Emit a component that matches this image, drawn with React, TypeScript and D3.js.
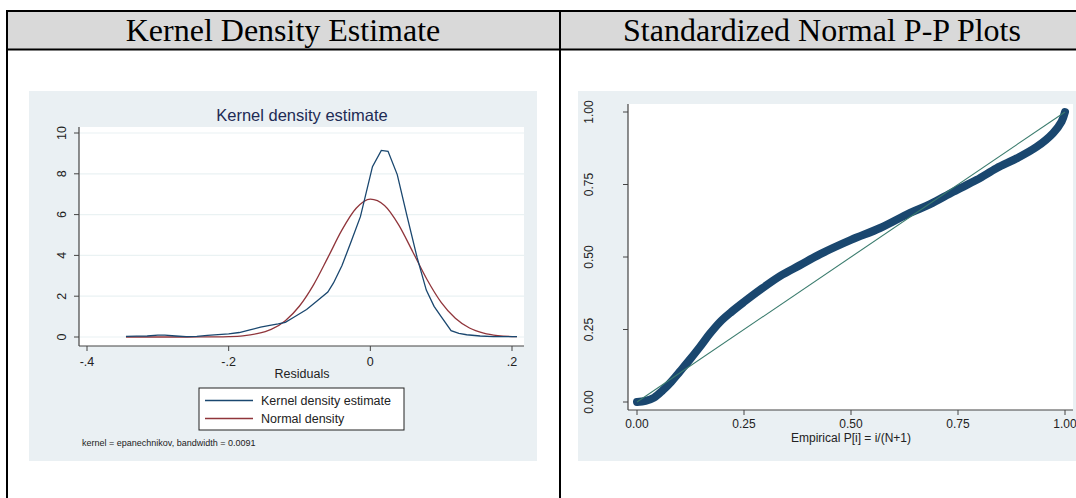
import React from "react";
import * as d3 from "d3";

// Residuals grid (x) and kernel density estimate (y)
const kdeX = [-0.345, -0.33, -0.315, -0.3, -0.29, -0.275, -0.26, -0.245, -0.23, -0.215, -0.2, -0.185, -0.17, -0.155, -0.14, -0.13, -0.12, -0.108, -0.09, -0.074, -0.06, -0.052, -0.04, -0.028, -0.014, 0.003, 0.0155, 0.025, 0.038, 0.052, 0.066, 0.079, 0.09, 0.1, 0.114, 0.125, 0.136, 0.155, 0.174, 0.19, 0.207];
const kdeY = [0.03, 0.04, 0.05, 0.09, 0.09, 0.05, 0.02, 0.03, 0.08, 0.12, 0.15, 0.22, 0.35, 0.48, 0.58, 0.64, 0.72, 0.97, 1.35, 1.8, 2.2, 2.65, 3.5, 4.6, 5.9, 8.35, 9.15, 9.1, 7.96, 5.9, 3.9, 2.3, 1.5, 1.0, 0.31, 0.18, 0.11, 0.05, 0.02, 0.02, 0.02];

// Normal density overlay
const normX = [-0.345, -0.3, -0.26, -0.24, -0.22, -0.2, -0.18, -0.16, -0.14, -0.12, -0.1, -0.08, -0.06, -0.04, -0.02, 0, 0.02, 0.04, 0.06, 0.08, 0.1, 0.12, 0.14, 0.16, 0.18, 0.207];
const normY = [0, 0, 0, 0.002, 0.006, 0.02, 0.06, 0.16, 0.37, 0.8, 1.52, 2.57, 3.89, 5.25, 6.31, 6.76, 6.45, 5.5, 4.17, 2.82, 1.7, 0.92, 0.44, 0.19, 0.07, 0.015];

const kdeYTicks = [0, 2, 4, 6, 8, 10];
const kdeXTicks = [-0.4, -0.2, 0, 0.2];
const kdeXTickLabels = ["-.4", "-.2", "0", ".2"];

// Standardized normal P-P: empirical P[i] vs normal F
const ppEmp = [0, 0.02, 0.04, 0.06, 0.08, 0.1, 0.12, 0.147, 0.17, 0.194, 0.22, 0.25, 0.287, 0.334, 0.381, 0.428, 0.5, 0.568, 0.638, 0.685, 0.739, 0.794, 0.84, 0.887, 0.934, 0.972, 0.992, 1.0];
const ppNorm = [0, 0.004, 0.015, 0.04, 0.07, 0.105, 0.14, 0.19, 0.235, 0.276, 0.31, 0.345, 0.386, 0.434, 0.472, 0.51, 0.559, 0.6, 0.652, 0.682, 0.725, 0.766, 0.806, 0.84, 0.88, 0.927, 0.967, 1.0];

const ppTicks = [0, 0.25, 0.5, 0.75, 1];
const ppTickLabels = ["0.00", "0.25", "0.50", "0.75", "1.00"];

const headers = ["Kernel Density Estimate", "Standardized Normal P-P Plots"];

const NAVY = "#1a476f";
const MAROON = "#90353b";
const TEAL = "#3b7c6e";
const GRAPH_BG = "#eaf0f3";
const GRID = "#eaf2f3";
const SANS = "'Liberation Sans', Arial, sans-serif";
const SERIF = "'Liberation Serif', 'Times New Roman', serif";

function KernelPanel() {
  const x = d3.scaleLinear().domain([-0.4, 0.2]).range([87, 512]);
  const y = d3.scaleLinear().domain([0, 10]).range([337, 133]);
  const kdeLine = d3
    .line<[number, number]>()
    .x((d) => x(d[0]))
    .y((d) => y(d[1]));
  const normLine = d3
    .line<[number, number]>()
    .x((d) => x(d[0]))
    .y((d) => y(d[1]))
    .curve(d3.curveMonotoneX);
  const kde = kdeX.map((v, i) => [v, kdeY[i]] as [number, number]);
  const norm = normX.map((v, i) => [v, normY[i]] as [number, number]);
  const left = 79;
  const right = 524;
  const top = 127;
  const bottom = 346;
  return (
    <g>
      <rect x={29} y={91} width={508} height={370} fill={GRAPH_BG} />
      <rect x={left} y={top} width={right - left} height={bottom - top} fill="#ffffff" />
      <text x={302} y={121} textAnchor="middle" fontFamily={SANS} fontSize={16.5} fill="#1e2b55">
        Kernel density estimate
      </text>
      {kdeYTicks.map((t) => (
        <g key={t}>
          <line x1={left + 1} x2={right} y1={y(t)} y2={y(t)} stroke={GRID} strokeWidth={1.2} />
          <line x1={left - 5} x2={left} y1={y(t)} y2={y(t)} stroke="#444" strokeWidth={1} />
          <text
            transform={`translate(66,${y(t)}) rotate(-90)`}
            textAnchor="middle"
            fontFamily={SANS}
            fontSize={12.5}
            fill="#222"
          >
            {t}
          </text>
        </g>
      ))}
      <line x1={left} x2={left} y1={top} y2={bottom} stroke="#444" strokeWidth={1.2} />
      <line x1={left} x2={right} y1={bottom} y2={bottom} stroke="#444" strokeWidth={1.2} />
      {kdeXTicks.map((t, i) => (
        <g key={t}>
          <line x1={x(t)} x2={x(t)} y1={bottom} y2={bottom + 5} stroke="#444" strokeWidth={1} />
          <text x={x(t)} y={366} textAnchor="middle" fontFamily={SANS} fontSize={12.5} fill="#222">
            {kdeXTickLabels[i]}
          </text>
        </g>
      ))}
      <text x={302} y={378} textAnchor="middle" fontFamily={SANS} fontSize={12.5} fill="#222">
        Residuals
      </text>
      <path d={normLine(norm) ?? ""} fill="none" stroke={MAROON} strokeWidth={1.3} />
      <path d={kdeLine(kde) ?? ""} fill="none" stroke={NAVY} strokeWidth={1.3} />
      <rect x={199} y={388} width={205} height={42} fill="#ffffff" stroke="#222" strokeWidth={1} />
      <line x1={205} x2={253} y1={400.5} y2={400.5} stroke={NAVY} strokeWidth={1.3} />
      <line x1={205} x2={253} y1={418.5} y2={418.5} stroke={MAROON} strokeWidth={1.3} />
      <text x={261} y={405} fontFamily={SANS} fontSize={12.5} fill="#222">
        Kernel density estimate
      </text>
      <text x={261} y={423} fontFamily={SANS} fontSize={12.5} fill="#222">
        Normal density
      </text>
      <text x={82} y={446} fontFamily={SANS} fontSize={9} fill="#222">
        kernel = epanechnikov, bandwidth = 0.0091
      </text>
    </g>
  );
}

function PPPanel() {
  const x = d3.scaleLinear().domain([0, 1]).range([637, 1065]);
  const y = d3.scaleLinear().domain([0, 1]).range([402, 112]);
  const pts = ppEmp.map((v, i) => [v, ppNorm[i]] as [number, number]);
  const band = d3
    .line<[number, number]>()
    .x((d) => x(d[0]))
    .y((d) => y(d[1]))
    .curve(d3.curveCatmullRom.alpha(0.5));
  const left = 628;
  const right = 1073;
  const top = 104;
  const bottom = 410;
  return (
    <g>
      <rect x={578} y={91} width={520} height={370} fill={GRAPH_BG} />
      <rect x={left} y={top} width={right - left} height={bottom - top} fill="#ffffff" />
      {ppTicks.map((t, i) => (
        <g key={`y${t}`}>
          <line x1={left - 5} x2={left} y1={y(t)} y2={y(t)} stroke="#444" strokeWidth={1} />
          <text
            transform={`translate(593,${y(t)}) rotate(-90)`}
            textAnchor="middle"
            fontFamily={SANS}
            fontSize={12}
            fill="#222"
          >
            {ppTickLabels[i]}
          </text>
        </g>
      ))}
      <line x1={left} x2={left} y1={top} y2={bottom} stroke="#444" strokeWidth={1.2} />
      <line x1={left} x2={right} y1={bottom} y2={bottom} stroke="#444" strokeWidth={1.2} />
      {ppTicks.map((t, i) => (
        <g key={`x${t}`}>
          <line x1={x(t)} x2={x(t)} y1={bottom} y2={bottom + 5} stroke="#444" strokeWidth={1} />
          <text x={x(t)} y={428} textAnchor="middle" fontFamily={SANS} fontSize={12} fill="#222">
            {ppTickLabels[i]}
          </text>
        </g>
      ))}
      <text x={851} y={442} textAnchor="middle" fontFamily={SANS} fontSize={12} fill="#222">
        Empirical P[i] = i/(N+1)
      </text>
      <path
        d={band(pts) ?? ""}
        fill="none"
        stroke={NAVY}
        strokeWidth={8}
        strokeLinecap="round"
        strokeLinejoin="round"
      />
      <line x1={x(0)} y1={y(0)} x2={x(1)} y2={y(1)} stroke={TEAL} strokeWidth={1.1} />
    </g>
  );
}

export default function App() {
  return (
    <svg
      width={1076}
      height={498}
      style={{ position: "absolute", left: 0, top: 0, background: "#ffffff" }}
    >
      <rect x={0} y={0} width={1076} height={498} fill="#ffffff" />
      <PPPanel />
      <KernelPanel />
      {/* header row */}
      <rect x={8} y={12} width={1068} height={37} fill="#d9d9d9" />
      <line x1={6} x2={1076} y1={11} y2={11} stroke="#000" strokeWidth={2} />
      <line x1={6} x2={1076} y1={49.5} y2={49.5} stroke="#000" strokeWidth={2} />
      <line x1={7} x2={7} y1={10} y2={498} stroke="#000" strokeWidth={2} />
      <line x1={560} x2={560} y1={10} y2={498} stroke="#000" strokeWidth={2} />
      <text x={283} y={41} textAnchor="middle" fontFamily={SERIF} fontSize={32} fill="#000">
        {headers[0]}
      </text>
      <text x={822} y={41} textAnchor="middle" fontFamily={SERIF} fontSize={32} fill="#000">
        {headers[1]}
      </text>
    </svg>
  );
}
